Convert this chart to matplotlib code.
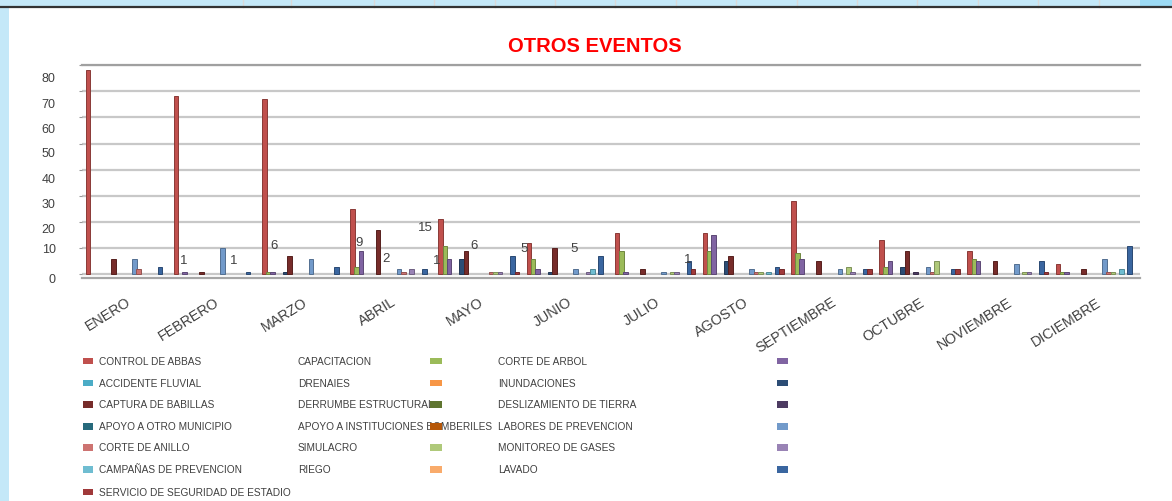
import matplotlib.pyplot as plt
import matplotlib as mpl
from matplotlib.patches import Rectangle
from matplotlib.lines import Line2D
from matplotlib.colors import to_rgb
import numpy as np

plt.rcParams['font.family'] = ['Liberation Sans', 'DejaVu Sans']

W, H = 1172, 502

# datos
months = ['ENERO', 'FEBRERO', 'MARZO', 'ABRIL', 'MAYO', 'JUNIO', 'JULIO',
          'AGOSTO', 'SEPTIEMBRE', 'OCTUBRE', 'NOVIEMBRE', 'DICIEMBRE']

series_names = ['CONTROL DE ABBAS', 'CAPACITACION', 'CORTE DE ARBOL',
                'ACCIDENTE FLUVIAL', 'DRENAIES', 'INUNDACIONES',
                'CAPTURA DE BABILLAS', 'DERRUMBE ESTRUCTURAL', 'DESLIZAMIENTO DE TIERRA',
                'APOYO A OTRO MUNICIPIO', 'APOYO A INSTITUCIONES BOMBERILES', 'LABORES DE PREVENCION',
                'CORTE DE ANILLO', 'SIMULACRO', 'MONITOREO DE GASES',
                'CAMPAÑAS DE PREVENCION', 'RIEGO', 'LAVADO',
                'SERVICIO DE SEGURIDAD DE ESTADIO']

colors = ['#C0504D', '#9BBB59', '#8064A2',
          '#4BACC6', '#F79646', '#2C4D75',
          '#772C2A', '#5F7530', '#4D3B62',
          '#276A7C', '#B65708', '#729ACA',
          '#CD7371', '#AFC97A', '#9983B5',
          '#6FBDD1', '#F9AB6B', '#3A66A0',
          '#A0393A']

control_abbas  = [78, 68, 67, 25, 21, 12, 16, 16, 28, 13, 9, 4]
capacitacion   = [0, 0, 1, 3, 11, 6, 9, 9, 8, 3, 6, 1]
corte_arbol    = [0, 1, 1, 9, 6, 2, 1, 15, 6, 5, 5, 1]
accidente      = [0, 0, 0, 0, 0, 0, 0, 0, 0, 0, 0, 0]
drenajes       = [0, 0, 0, 0, 0, 0, 0, 0, 0, 0, 0, 0]
inundaciones   = [0, 0, 1, 0, 6, 1, 0, 5, 0, 3, 0, 0]
babillas       = [6, 1, 7, 17, 9, 10, 2, 7, 5, 9, 5, 2]
derrumbe       = [0, 0, 0, 0, 0, 0, 0, 0, 0, 0, 0, 0]
deslizamiento  = [0, 0, 0, 0, 0, 0, 0, 0, 0, 1, 0, 0]
apoyo_mun      = [0, 0, 0, 0, 0, 0, 0, 0, 0, 0, 0, 0]
apoyo_bomb     = [0, 0, 0, 0, 0, 0, 0, 0, 0, 0, 0, 0]
labores        = [6, 10, 6, 2, 0, 2, 1, 2, 2, 3, 4, 6]
corte_anillo   = [2, 0, 0, 1, 1, 0, 0, 1, 0, 1, 0, 1]
simulacro      = [0, 0, 0, 0, 1, 0, 1, 1, 3, 5, 1, 1]
monitoreo      = [0, 0, 0, 2, 1, 1, 1, 0, 1, 0, 1, 0]
campanas       = [0, 0, 0, 0, 0, 2, 0, 1, 0, 0, 0, 2]
riego          = [0, 0, 0, 0, 0, 0, 0, 0, 0, 0, 0, 0]
lavado         = [3, 1, 3, 2, 7, 7, 5, 3, 2, 2, 5, 11]
servicio       = [0, 0, 0, 0, 1, 0, 2, 2, 2, 2, 1, 0]

values = [control_abbas, capacitacion, corte_arbol, accidente, drenajes,
          inundaciones, babillas, derrumbe, deslizamiento, apoyo_mun,
          apoyo_bomb, labores, corte_anillo, simulacro, monitoreo,
          campanas, riego, lavado, servicio]

# etiquetas sueltas que aparecen dentro del grafico
label_txt = ['1', '1', '6', '9', '2', '15', '1', '6', '5', '5', '1']
label_x = [0.65, 1.225, 1.683, 2.648, 2.951, 3.393, 3.518, 3.942, 4.509, 5.085, 6.375]
label_y = [5.4, 5.4, 11.25, 12.4, 6.2, 18.1, 5.4, 11.1, 10.2, 10.2, 5.8]

# valores del eje y
grid_vals = list(range(0, 81, 10))
ylabel_pos = [-1.25, 10.1, 17.8, 27.5, 37.2, 46.9, 56.3, 65.8, 75.6]

fig = plt.figure(figsize=(W / 100, H / 100), dpi=100)

def fx(px):
    return px / W

def fy(py):
    return 1 - py / H

# marco de la hoja de calculo
fig.patches.append(Rectangle((0, fy(7.5)), 1, 7.5 / H, transform=fig.transFigure,
                             facecolor='#C4E8F8', edgecolor='none', zorder=0))
fig.patches.append(Rectangle((fx(1140), fy(7.5)), 1 - fx(1140), 7.5 / H, transform=fig.transFigure,
                             facecolor='#9CDAF4', edgecolor='none', zorder=0))
for sx in [243, 291, 374, 434, 495, 555, 615, 676, 736, 797, 857, 917, 978, 1038, 1099]:
    fig.lines.append(Line2D([fx(sx), fx(sx)], [fy(7.5), 1], transform=fig.transFigure,
                            color='#D9D9D9', lw=1))
fig.lines.append(Line2D([0, 1], [fy(8.3), fy(8.3)], transform=fig.transFigure,
                        color='#333333', lw=1.6))
fig.patches.append(Rectangle((0, 0), fx(9), fy(9), transform=fig.transFigure,
                             facecolor='#C4E8F8', edgecolor='none', zorder=0))

ax = fig.add_axes([fx(82), fy(278.7), fx(1140 - 82), (278.7 - 66) / H])

bar_w = 0.048
x = np.arange(len(months))
for i, (vals, c) in enumerate(zip(values, colors)):
    vals = np.array(vals, dtype=float)
    keep = vals > 0
    if not keep.any():
        continue
    edge = tuple(np.array(to_rgb(c)) * 0.72)
    ax.bar(x[keep] + (i - 9) * bar_w, vals[keep], bar_w * 1.1, color=c,
           edgecolor=edge, linewidth=0.7, zorder=3)

for tx, ty, t in zip(label_x, label_y, label_txt):
    ax.text(tx, ty, t, ha='center', va='center', fontsize=9.5, color='#404040', zorder=4)

ax.set_xlim(-0.5, 11.5)
ax.set_ylim(0, 80)

ax.set_yticks(grid_vals, minor=True)
ax.set_yticks(ylabel_pos)
ax.set_yticklabels([str(v) for v in grid_vals])
ax.grid(which='minor', axis='y', color='#C8C8C8', lw=1.6, zorder=1)
ax.tick_params(axis='y', which='major', length=0, pad=19, labelsize=9, labelcolor='#404040')
ax.tick_params(axis='y', which='minor', length=2.5, width=0.8, color='#999999', direction='out')

ax.set_xticks(x)
ax.set_xticklabels(months, rotation=32, ha='right', rotation_mode='anchor',
                   fontsize=10.3, color='#404040')
ax.tick_params(axis='x', length=0, pad=12)

for s in ['left', 'right']:
    ax.spines[s].set_visible(False)
ax.spines['top'].set_color('#A0A0A0')
ax.spines['top'].set_linewidth(1.6)
ax.spines['bottom'].set_color('#A6A6A6')
ax.spines['bottom'].set_linewidth(1.6)

fig.text(fx(595), fy(46), 'OTROS EVENTOS', ha='center', va='center', color='#FF0000',
         fontsize=14.5, fontweight='bold', family=['Liberation Sans Narrow', 'Liberation Sans'])

# leyenda (a mano, como en el original)
row_y = [362, 384, 405.5, 427.5, 448.5, 470.5, 493]
cols = [  # (x del texto, x del marcador, ancho del marcador)
    (99, 83, 10),
    (298, 430, 12),
    (498, 777, 11),
]
for k, (name, c) in enumerate(zip(series_names, colors)):
    col, row = k % 3, k // 3
    lx, mx, mw = cols[col]
    yy = row_y[row]
    fig.patches.append(Rectangle((fx(mx), fy(yy + 3.3)), mw / W, 6.6 / H,
                                 transform=fig.transFigure, facecolor=c,
                                 edgecolor='none', zorder=3))
    fig.text(fx(lx), fy(yy), name, ha='left', va='center', fontsize=7.3,
             color='#404040', zorder=2)

fig.savefig('out.png', dpi=100)
